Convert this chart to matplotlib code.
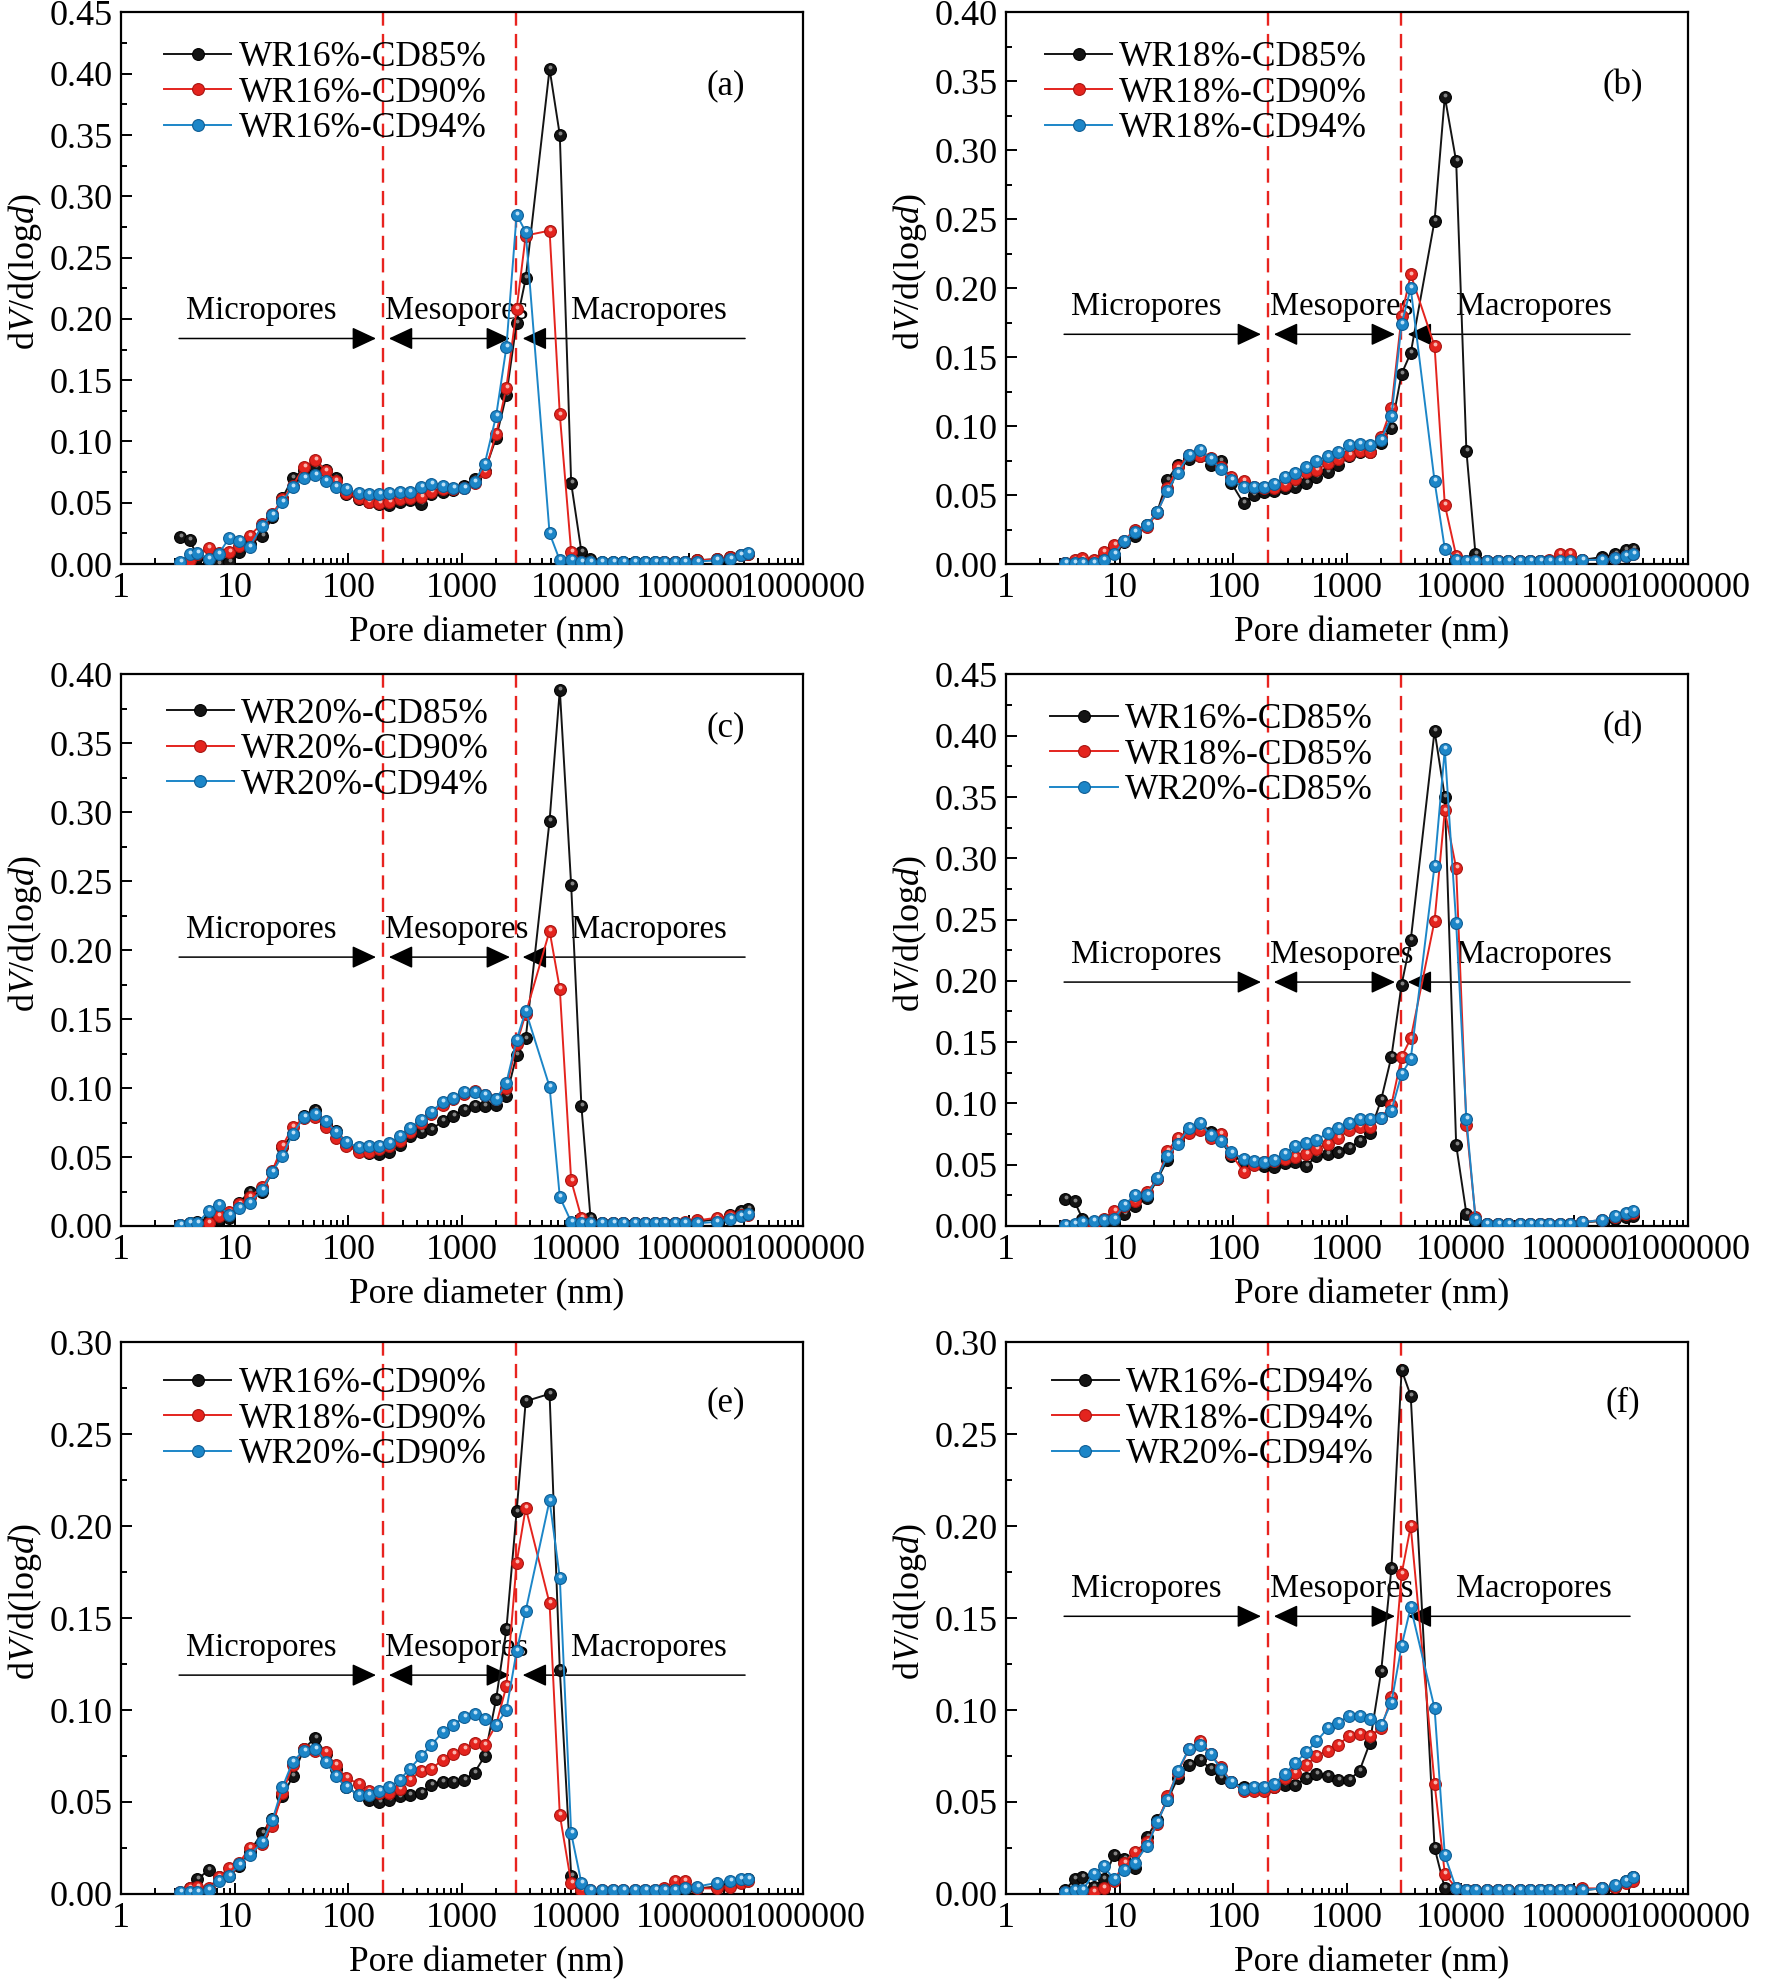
import numpy as np
import matplotlib
matplotlib.use('Agg')
import matplotlib.pyplot as plt
from matplotlib.ticker import FixedLocator, LogLocator, MultipleLocator, FuncFormatter, NullFormatter
from matplotlib.transforms import offset_copy

plt.rcParams['font.family'] = ['Liberation Serif', 'DejaVu Serif']
plt.rcParams['mathtext.fontset'] = 'custom'
plt.rcParams['mathtext.rm'] = 'Liberation Serif'
plt.rcParams['mathtext.it'] = 'Liberation Serif:italic'

# Pore diameter grid (nm), shared by all samples
diameter = [3.3, 4.0, 4.7, 5.9, 7.2, 8.9, 11, 13.5, 17.4, 21.4,
            26.3, 32.4, 40.7, 51.3, 63.1, 77.6, 95.5, 123, 151, 186,
            229, 282, 347, 437, 537, 676, 832, 1047, 1288, 1585,
            1995, 2455, 3020, 3631, 5888, 7244, 9120, 11220, 13490, 16980,
            21380, 26300, 33110, 40740, 50120, 60260, 74130, 91200, 117500, 173800,
            229100, 281800, 331100]

# dV/d(logd) values
wr16_cd85 = [0.022, 0.020, 0.006, 0.001, 0.000, 0.002, 0.010, 0.016, 0.023, 0.038,
             0.054, 0.070, 0.077, 0.079, 0.077, 0.070, 0.057, 0.053, 0.051, 0.049,
             0.048, 0.051, 0.052, 0.049, 0.057, 0.059, 0.060, 0.064, 0.069, 0.076,
             0.103, 0.138, 0.197, 0.233, 0.404, 0.350, 0.066, 0.010, 0.004, 0.002,
             0.002, 0.002, 0.002, 0.002, 0.002, 0.002, 0.002, 0.002, 0.003, 0.004,
             0.006, 0.007, 0.008]
wr16_cd90 = [0.000, 0.003, 0.008, 0.013, 0.009, 0.010, 0.015, 0.023, 0.033, 0.041,
             0.053, 0.064, 0.079, 0.085, 0.076, 0.068, 0.058, 0.054, 0.051, 0.050,
             0.051, 0.053, 0.054, 0.055, 0.059, 0.061, 0.061, 0.062, 0.066, 0.075,
             0.106, 0.144, 0.208, 0.268, 0.272, 0.122, 0.010, 0.002, 0.001, 0.001,
             0.001, 0.001, 0.001, 0.001, 0.001, 0.002, 0.002, 0.002, 0.003, 0.004,
             0.006, 0.007, 0.008]
wr16_cd94 = [0.002, 0.008, 0.009, 0.004, 0.008, 0.021, 0.019, 0.014, 0.031, 0.040,
             0.051, 0.063, 0.070, 0.073, 0.068, 0.063, 0.061, 0.058, 0.057, 0.057,
             0.058, 0.059, 0.059, 0.063, 0.065, 0.064, 0.062, 0.062, 0.067, 0.082,
             0.121, 0.177, 0.285, 0.271, 0.025, 0.003, 0.003, 0.002, 0.002, 0.002,
             0.002, 0.002, 0.002, 0.002, 0.002, 0.002, 0.002, 0.002, 0.002, 0.003,
             0.004, 0.007, 0.009]
wr18_cd85 = [0.001, 0.001, 0.001, 0.002, 0.006, 0.012, 0.016, 0.020, 0.028, 0.038,
             0.061, 0.072, 0.076, 0.078, 0.072, 0.075, 0.059, 0.044, 0.050, 0.052,
             0.053, 0.055, 0.056, 0.059, 0.063, 0.067, 0.072, 0.078, 0.081, 0.081,
             0.088, 0.099, 0.138, 0.153, 0.249, 0.339, 0.292, 0.082, 0.007, 0.002,
             0.002, 0.002, 0.002, 0.002, 0.002, 0.002, 0.002, 0.002, 0.003, 0.005,
             0.007, 0.010, 0.011]
wr18_cd90 = [0.001, 0.003, 0.004, 0.003, 0.009, 0.014, 0.017, 0.025, 0.027, 0.037,
             0.055, 0.070, 0.079, 0.078, 0.077, 0.070, 0.063, 0.060, 0.056, 0.055,
             0.055, 0.057, 0.062, 0.067, 0.068, 0.073, 0.076, 0.079, 0.082, 0.081,
             0.092, 0.113, 0.180, 0.210, 0.158, 0.043, 0.006, 0.002, 0.002, 0.002,
             0.002, 0.002, 0.002, 0.002, 0.002, 0.003, 0.007, 0.007, 0.003, 0.003,
             0.004, 0.006, 0.007]
wr18_cd94 = [0.001, 0.001, 0.001, 0.001, 0.003, 0.007, 0.017, 0.023, 0.028, 0.038,
             0.053, 0.066, 0.079, 0.083, 0.076, 0.069, 0.061, 0.056, 0.056, 0.056,
             0.058, 0.063, 0.066, 0.070, 0.075, 0.078, 0.081, 0.086, 0.087, 0.086,
             0.090, 0.107, 0.174, 0.200, 0.060, 0.011, 0.003, 0.002, 0.002, 0.002,
             0.002, 0.002, 0.002, 0.002, 0.002, 0.002, 0.002, 0.002, 0.003, 0.003,
             0.004, 0.006, 0.007]
wr20_cd85 = [0.001, 0.002, 0.003, 0.004, 0.005, 0.006, 0.017, 0.025, 0.025, 0.039,
             0.057, 0.067, 0.080, 0.084, 0.074, 0.069, 0.060, 0.055, 0.053, 0.052,
             0.054, 0.059, 0.065, 0.068, 0.070, 0.076, 0.080, 0.084, 0.087, 0.087,
             0.088, 0.094, 0.124, 0.136, 0.294, 0.389, 0.247, 0.087, 0.006, 0.002,
             0.002, 0.002, 0.002, 0.002, 0.002, 0.002, 0.002, 0.002, 0.003, 0.005,
             0.008, 0.011, 0.012]
wr20_cd90 = [0.001, 0.001, 0.001, 0.002, 0.007, 0.010, 0.016, 0.021, 0.028, 0.040,
             0.058, 0.072, 0.078, 0.079, 0.072, 0.064, 0.058, 0.054, 0.054, 0.056,
             0.058, 0.062, 0.068, 0.075, 0.081, 0.088, 0.092, 0.096, 0.098, 0.095,
             0.092, 0.100, 0.132, 0.154, 0.214, 0.172, 0.033, 0.006, 0.002, 0.002,
             0.002, 0.002, 0.002, 0.002, 0.002, 0.002, 0.002, 0.003, 0.004, 0.006,
             0.007, 0.008, 0.008]
wr20_cd94 = [0.001, 0.002, 0.002, 0.011, 0.015, 0.008, 0.013, 0.017, 0.026, 0.039,
             0.051, 0.067, 0.079, 0.081, 0.076, 0.068, 0.061, 0.057, 0.058, 0.058,
             0.060, 0.065, 0.071, 0.077, 0.083, 0.090, 0.093, 0.097, 0.097, 0.095,
             0.092, 0.104, 0.135, 0.156, 0.101, 0.021, 0.003, 0.002, 0.002, 0.002,
             0.002, 0.002, 0.002, 0.002, 0.002, 0.002, 0.002, 0.002, 0.002, 0.003,
             0.005, 0.007, 0.009]

x_ticks = [1, 10, 100, 1000, 10000, 100000, 1000000]
boundaries = [200, 3000]   # micro/meso and meso/macro limits (nm)

# colour: (line/face, edge, highlight)
styles = [('#141414', '#000000', '#9a9a9a'),
          ('#e4241e', '#a81410', '#ffd0c8'),
          ('#1c86c8', '#0e5d94', '#d8f0ff')]

panels = [
    # letter, series, labels, ymax, arrow y, legend anchor, letter pos
    ('(a)', [wr16_cd85, wr16_cd90, wr16_cd94],
     ['WR16%-CD85%', 'WR16%-CD90%', 'WR16%-CD94%'], 0.45, 0.184, (0.063, 0.948), (0.887, 0.867)),
    ('(b)', [wr18_cd85, wr18_cd90, wr18_cd94],
     ['WR18%-CD85%', 'WR18%-CD90%', 'WR18%-CD94%'], 0.40, 0.1666, (0.057, 0.948), (0.904, 0.867)),
    ('(c)', [wr20_cd85, wr20_cd90, wr20_cd94],
     ['WR20%-CD85%', 'WR20%-CD90%', 'WR20%-CD94%'], 0.40, 0.195, (0.067, 0.958), (0.887, 0.904)),
    ('(d)', [wr16_cd85, wr18_cd85, wr20_cd85],
     ['WR16%-CD85%', 'WR18%-CD85%', 'WR20%-CD85%'], 0.45, 0.199, (0.065, 0.948), (0.904, 0.904)),
    ('(e)', [wr16_cd90, wr18_cd90, wr20_cd90],
     ['WR16%-CD90%', 'WR18%-CD90%', 'WR20%-CD90%'], 0.30, 0.119, (0.063, 0.955), (0.887, 0.890)),
    ('(f)', [wr16_cd94, wr18_cd94, wr20_cd94],
     ['WR16%-CD94%', 'WR18%-CD94%', 'WR20%-CD94%'], 0.30, 0.151, (0.067, 0.955), (0.904, 0.890)),
]

col_left = [0.0684, 0.5684]
row_bottom = [0.7150, 0.3805, 0.0430]
ax_w, ax_h = 0.3853, 0.2787

fig = plt.figure(figsize=(17.7, 19.79), dpi=100)

for i, (letter, series, labels, ymax, ay, leg_pos, let_pos) in enumerate(panels):
    ax = fig.add_axes([col_left[i % 2], row_bottom[i // 2], ax_w, ax_h])
    hl = offset_copy(ax.transData, fig=fig, x=0.4, y=1.4, units='points')

    for k, (vals, lab) in enumerate(zip(series, labels)):
        c, ec, hc = styles[k]
        ax.plot(diameter, vals, '-o', color=c, lw=1.4, ms=8.5, mfc=c, mec=ec, mew=0.8,
                label=lab, zorder=3 + k)
        ax.plot(diameter, vals, 'o', color=hc, ms=2.8, mew=0, alpha=0.85,
                transform=hl, zorder=3 + k)

    for b in boundaries:
        ax.axvline(b, color='#e8231f', lw=1.7, ls=(0, (6, 3.5)), zorder=2)

    # pore class arrows
    ty = ay + ymax * 0.05
    head = '-|>,head_length=0.6,head_width=0.28'
    akw = dict(color='black', lw=1.1, shrinkA=0, shrinkB=0, mutation_scale=25)
    ax.annotate('', xy=(175, ay), xytext=(3.24, ay),
                arrowprops=dict(arrowstyle=head, **akw), zorder=1)
    ax.annotate('', xy=(2640, ay), xytext=(227, ay),
                arrowprops=dict(arrowstyle='<|-|>,head_length=0.6,head_width=0.28', **akw), zorder=1)
    ax.annotate('', xy=(3415, ay), xytext=(309000, ay),
                arrowprops=dict(arrowstyle=head, **akw), zorder=1)
    ax.text(17, ty, 'Micropores', ha='center', va='center', fontsize=23.5, zorder=1)
    ax.text(900, ty, 'Mesopores', ha='center', va='center', fontsize=23.5, zorder=1)
    ax.text(44000, ty, 'Macropores', ha='center', va='center', fontsize=23.5, zorder=1)

    ax.set_xscale('log')
    ax.set_xlim(1, 1e6)
    ax.set_ylim(0, ymax)
    ax.xaxis.set_major_locator(FixedLocator(x_ticks))
    ax.xaxis.set_major_formatter(FuncFormatter(lambda v, p: f'{v:.0f}'))
    ax.xaxis.set_minor_locator(LogLocator(base=10, subs=np.arange(2, 10), numticks=20))
    ax.xaxis.set_minor_formatter(NullFormatter())
    ax.yaxis.set_major_locator(MultipleLocator(0.05))
    ax.yaxis.set_minor_locator(MultipleLocator(0.025))
    ax.yaxis.set_major_formatter(FuncFormatter(lambda v, p: f'{v:.2f}'))

    ax.tick_params(which='both', direction='in', top=False, right=False,
                   labelsize=26, width=1.4)
    ax.tick_params(which='major', length=8, pad=6)
    ax.tick_params(which='minor', length=4)
    for sp in ax.spines.values():
        sp.set_linewidth(1.6)

    ax.set_xlabel('Pore diameter (nm)', fontsize=25.5)
    ax.set_ylabel(r'd$\it{V}$/d(log$\it{d}$)', fontsize=26)
    ax.xaxis.set_label_coords(0.536, -0.095)
    ax.yaxis.set_label_coords(-0.113, 0.53)

    ax.legend(loc='upper left', bbox_to_anchor=leg_pos, frameon=False, fontsize=25.5,
              handlelength=1.9, handletextpad=0.2, labelspacing=0.07, borderpad=0,
              borderaxespad=0)
    ax.text(let_pos[0], let_pos[1], letter, transform=ax.transAxes, ha='center',
            va='center', fontsize=25)

fig.savefig('out.png', dpi=100)
